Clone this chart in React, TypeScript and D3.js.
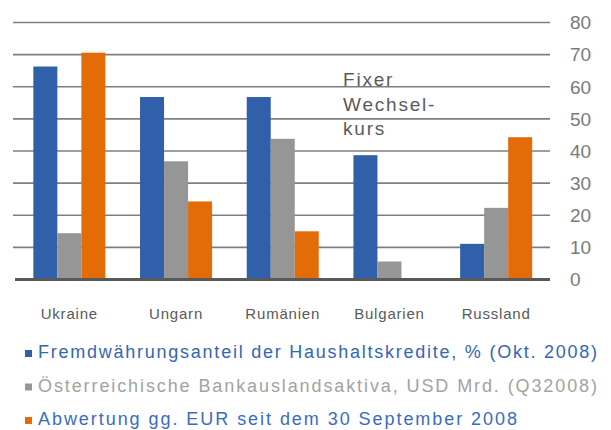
import React from 'react'
import * as d3 from 'd3'

const countries = ['Ukraine', 'Ungarn', 'Rumänien', 'Bulgarien', 'Russland']
const fxShare = [66.3, 56.8, 56.8, 38.7, 11.1]
const austrianAssets = [14.4, 36.8, 43.8, 5.6, 22.3]
const devaluation = [70.6, 24.3, 15.0, 0, 44.3]
const yTicks = [0, 10, 20, 30, 40, 50, 60, 70, 80]

const seriesNames = [
  'Fremdwährungsanteil der Haushaltskredite, % (Okt. 2008)',
  'Österreichische Bankauslandsaktiva, USD Mrd. (Q32008)',
  'Abwertung gg. EUR seit dem 30 September 2008',
]
const seriesColors = ['#3060aa', '#969696', '#e36c09']
const legendTextColors = ['#3566b4', '#a3a3a3', '#3a6cc0']
const annotation = ['Fixer', 'Wechsel-', 'kurs']

const width = 611
const height = 430

export default function App() {
  const x = d3.scaleBand<string>()
    .domain(countries)
    .range([16, 549.5])
    .paddingInner(0.325)
    .paddingOuter(0.1625)

  const series = [fxShare, austrianAssets, devaluation]
  const xInner = d3.scaleBand<number>()
    .domain([0, 1, 2])
    .range([0, x.bandwidth()])

  const y = d3.scaleLinear().domain([0, 80]).range([279.5, 22.5])

  const font = '"Liberation Sans", Arial, sans-serif'
  const legendWidths = [559, 559, 479]

  return (
    <svg width={width} height={height}
      style={{ position: 'absolute', left: 0, top: 0, background: '#fff', fontFamily: font }}>
      {/* gridlines */}
      {yTicks.filter(t => t > 0).map(t => (
        <line key={t} x1={13} x2={550} y1={y(t)} y2={y(t)} stroke="#7f7f7f" strokeWidth={1.6} />
      ))}
      {/* bars */}
      {countries.map((c, i) => (
        <g key={c} transform={`translate(${x(c)},0)`}>
          {series.map((s, j) => s[i] > 0 && (
            <rect key={j} x={xInner(j)} y={y(s[i])} width={xInner.bandwidth()}
              height={y(0) - y(s[i])} fill={seriesColors[j]} />
          ))}
        </g>
      ))}
      {/* baseline */}
      <line x1={15} x2={550} y1={y(0)} y2={y(0)} stroke="#595959" strokeWidth={3} />
      {/* y tick labels */}
      {yTicks.map(t => (
        <text key={t} x={570} y={y(t)} dy="0.36em" fontSize={19} fill="#7a7a7a">{t}</text>
      ))}
      {/* category labels */}
      {countries.map(c => (
        <text key={c} x={(x(c) ?? 0) + x.bandwidth() / 2} y={319} textAnchor="middle"
          fontSize={15} letterSpacing={0.8} fill="#595959">{c}</text>
      ))}
      {/* annotation */}
      {annotation.map((line, i) => (
        <text key={line} x={343} y={86 + i * 24.5} fontSize={19} letterSpacing={1.8} fill="#5a5a5a">{line}</text>
      ))}
      {/* legend */}
      {seriesNames.map((name, i) => (
        <g key={name} transform={`translate(0,${358 + i * 33.5})`}>
          <rect x={25} y={-8} width={7} height={7} fill={seriesColors[i]} />
          <text x={38} y={0} fontSize={18} fill={legendTextColors[i]}
            textLength={legendWidths[i]} lengthAdjust="spacing">{name}</text>
        </g>
      ))}
    </svg>
  )
}
